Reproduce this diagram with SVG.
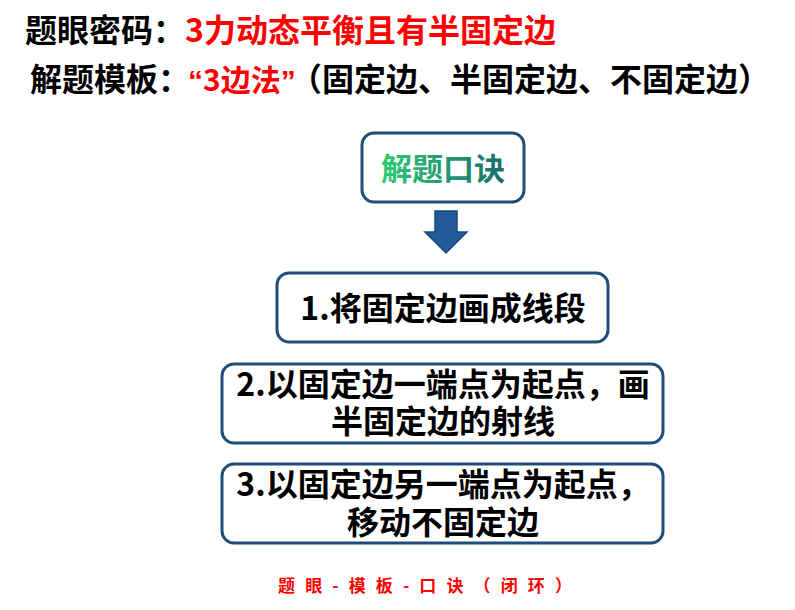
<svg xmlns="http://www.w3.org/2000/svg" width="795" height="610" viewBox="0 0 795 610">
<defs>
<linearGradient id="g" x1="0" y1="0" x2="1" y2="0">
<stop offset="0" stop-color="#2ecc71"/>
<stop offset="1" stop-color="#1d6a6e"/>
</linearGradient>
<style>
.t{font-family:"Noto Sans CJK SC","Noto Sans",sans-serif;font-weight:bold;}
.q{font-family:"Liberation Sans",sans-serif;font-weight:bold;}
.box{fill:#fff;stroke:#1f4e79;stroke-width:3;}
.b{font-size:32px;fill:#000;text-anchor:middle;}
</style>
</defs>
<rect width="795" height="610" fill="#fff"/>
<g id="title">
<text class="t" x="25" y="42" font-size="32" fill="#000">题眼密码：<tspan fill="#ff0000">3力动态平衡且有半固定边</tspan></text>
<text class="t" x="30" y="91" font-size="32" fill="#000">解题模板：</text>
<text class="t" x="188" y="91" font-size="30" fill="#ff0000"><tspan class="q">“</tspan>3边法<tspan class="q">”</tspan></text>
<text class="t" x="290" y="91" font-size="32" fill="#000">（固定边、半固定边、不固定边）</text>
</g>
<g id="n0">
<rect class="box" x="362" y="133" width="162" height="69" rx="12"/>
<text class="t" x="443" y="180" font-size="31" fill="url(#g)" text-anchor="middle">解题口诀</text>
</g>
<g id="connectors">
<path d="M435,211 H457 V232 H467 L446,253 L425,232 H435 Z" fill="#1f5c99" stroke="#1a4a7a" stroke-width="1.5" stroke-linejoin="miter"/>
</g>
<g id="n1">
<rect class="box" x="277" y="273" width="331" height="69" rx="12"/>
<text class="t b" x="443" y="320">1.将固定边画成线段</text>
</g>
<g id="n2">
<rect class="box" x="222" y="364" width="441" height="79" rx="12"/>
<text class="t b" x="443" y="396">2.以固定边一端点为起点，画</text>
<text class="t b" x="443" y="433">半固定边的射线</text>
</g>
<g id="n3">
<rect class="box" x="222" y="464" width="441" height="79" rx="12"/>
<text class="t b" x="443" y="496">3.以固定边另一端点为起点，</text>
<text class="t b" x="443" y="534">移动不固定边</text>
</g>
<g id="footer">
<text class="t" x="278" y="592" font-size="17" fill="#ff0000" textLength="294" lengthAdjust="spacing">题眼-模板-口诀（闭环）</text>
</g>
</svg>
